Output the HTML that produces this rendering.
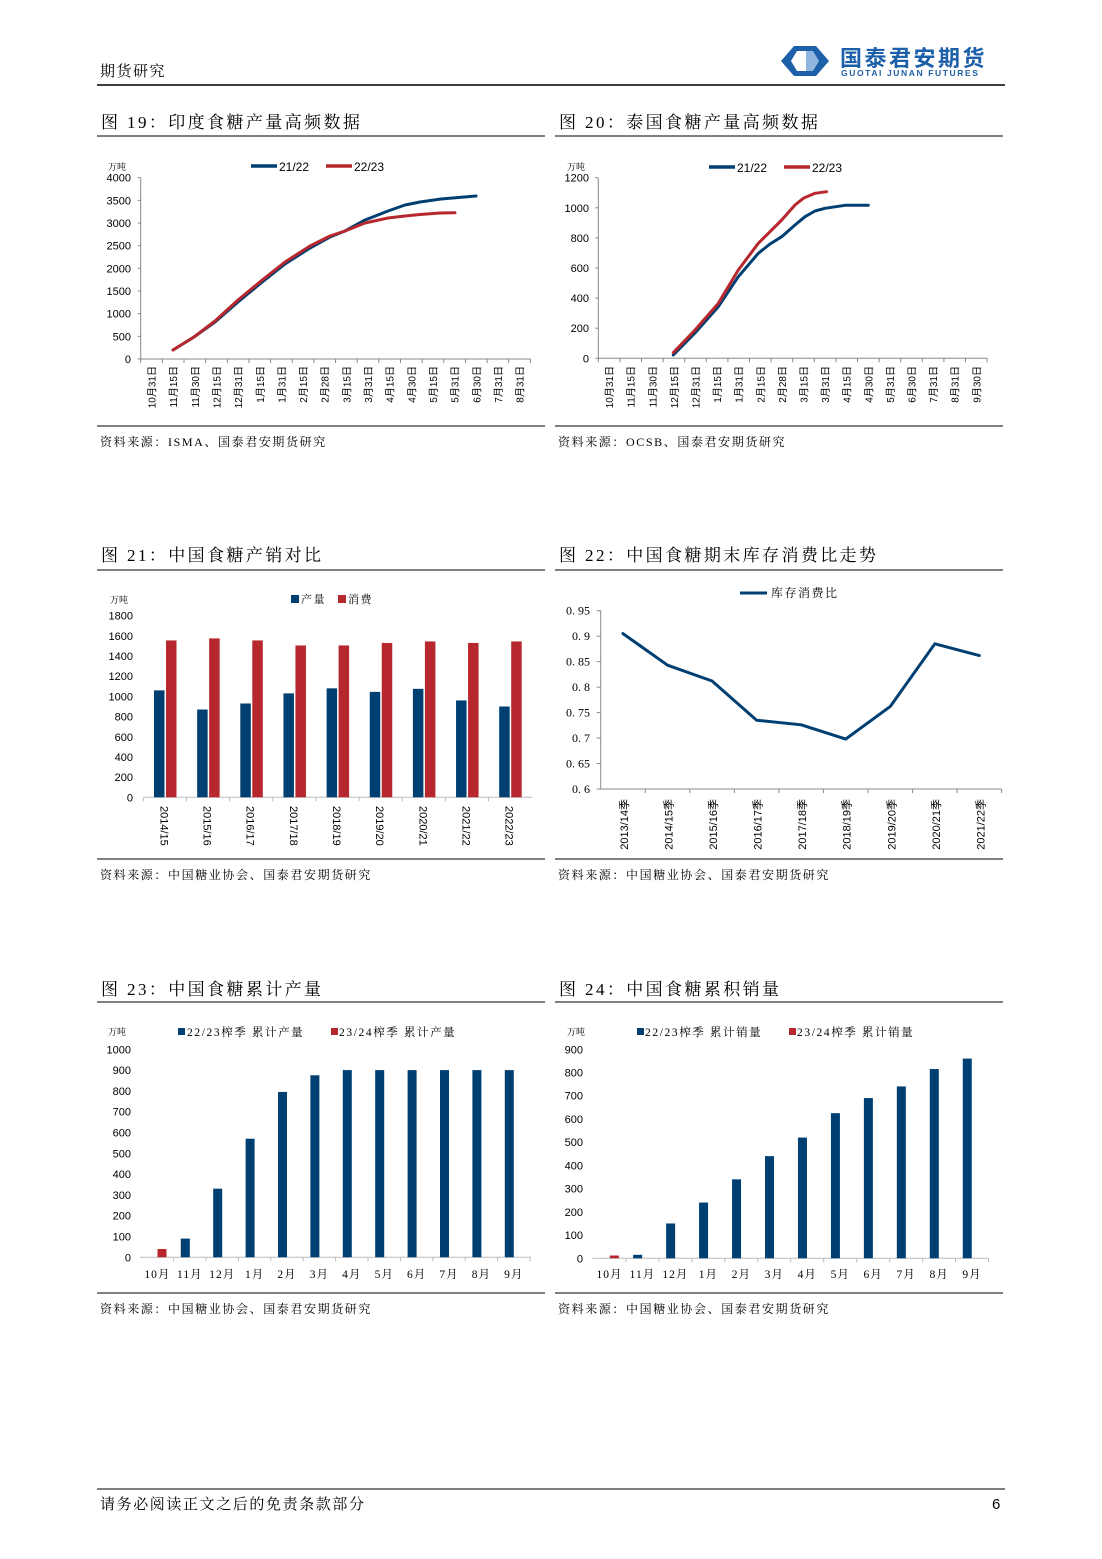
<!DOCTYPE html>
<html><head><meta charset="utf-8">
<style>
body{margin:0;background:#fff;}
svg{display:block;}
.t{font-family:"Liberation Sans","Noto Sans CJK SC",sans-serif;fill:#000;}
.c{font-family:"Liberation Serif","Noto Serif CJK SC",serif;fill:#000;}
</style></head><body>
<svg id="s" width="1102" height="1559" viewBox="0 0 1102 1559" xmlns="http://www.w3.org/2000/svg">
<rect width="1102" height="1559" fill="#fff"/>
<text x="100" y="76" class="c" font-size="15" letter-spacing="1.5">期货研究</text>
<g>
<path d="M781 61 L794 46 L816 46 L829 61 L816 76 L794 76 Z" fill="#1d5fa8"/>
<path d="M797 51 L806 51 L806 71 L797 71 L791 61 Z" fill="#fff"/>
<path d="M806 51 L813 51 L819 61 L813 71 L806 71 Z" fill="#8fb6de"/>
</g>
<text x="840" y="66" font-family="Noto Sans CJK SC,sans-serif" font-weight="bold" font-size="22" fill="#1d5fa8" letter-spacing="2.5">国泰君安期货</text>
<text x="841" y="76" font-family="Liberation Sans,sans-serif" font-weight="bold" font-size="8.5" fill="#1d5fa8" letter-spacing="1.6">GUOTAI JUNAN FUTURES</text>
<line x1="97" y1="85" x2="1005" y2="85" stroke="#000" stroke-width="1.5"/>
<line x1="97" y1="1489" x2="1005" y2="1489" stroke="#000" stroke-width="1"/>
<text x="100" y="1509" class="c" font-size="15" letter-spacing="1.6">请务必阅读正文之后的免责条款部分</text>
<text x="992" y="1509" class="t" font-size="15">6</text>
<g id="g"></g>
</svg>
<script>
var B='#003f72',R='#b7282e',out='';
function T(x,y,s,o){o=o||{};out+='<text x="'+x+'" y="'+y+'" class="'+(o.c||'t')+'" font-size="'+(o.fs||11)+'"'+(o.ls?' letter-spacing="'+o.ls+'"':'')+(o.a?' text-anchor="'+o.a+'"':'')+(o.r?' transform="rotate('+o.r+' '+x+' '+y+')"':'')+(o.f?' fill="'+o.f+'"':'')+'>'+s+'</text>';}
function L(x1,y1,x2,y2,c,w){out+='<line x1="'+x1+'" y1="'+y1+'" x2="'+x2+'" y2="'+y2+'" stroke="'+(c||'#888')+'" stroke-width="'+(w||1)+'"/>';}
function P(pts,c){out+='<polyline points="'+pts.map(function(p){return p.join(',')}).join(' ')+'" fill="none" stroke="'+c+'" stroke-width="3" stroke-linejoin="round" stroke-linecap="round"/>';}
function Rc(x,y,w,h,c){out+='<rect x="'+x+'" y="'+y+'" width="'+w+'" height="'+h+'" fill="'+c+'"/>';}
function frame(x0,x1,ty,title,ly,fy,src){T(x0+4,ty,title,{c:'c',fs:17,ls:2.4});L(x0,ly,x1,ly,'#000',1);L(x0,fy,x1,fy,'#000',1);T(x0+3,fy+20,src,{c:'c',fs:12,ls:1.6});}
frame(97,545,128,'图 19：印度食糖产量高频数据',136,426,'资料来源：ISMA、国泰君安期货研究');
frame(555,1003,128,'图 20：泰国食糖产量高频数据',136,426,'资料来源：OCSB、国泰君安期货研究');
frame(97,545,561,'图 21：中国食糖产销对比',570,859,'资料来源：中国糖业协会、国泰君安期货研究');
frame(555,1003,561,'图 22：中国食糖期末库存消费比走势',570,859,'资料来源：中国糖业协会、国泰君安期货研究');
frame(97,545,995,'图 23：中国食糖累计产量',1002,1293,'资料来源：中国糖业协会、国泰君安期货研究');
frame(555,1003,995,'图 24：中国食糖累积销量',1002,1293,'资料来源：中国糖业协会、国泰君安期货研究');
// chart 19
(function(){var ax=140.7,y0=359,top=177.7;L(ax,top,ax,y0);var n=18,w=21.65;L(ax,y0,ax+n*w,y0);
for(var v=0;v<=4000;v+=500){var y=y0-v*(y0-top)/4000;L(ax-3,y,ax,y);T(131,y+4,v,{a:'end'});}
var lb=['10月31日','11月15日','11月30日','12月15日','12月31日','1月15日','1月31日','2月15日','2月28日','3月15日','3月31日','4月15日','4月30日','5月15日','5月31日','6月30日','7月31日','8月31日'];
for(var i=0;i<=n;i++)L(ax+i*w,y0,ax+i*w,y0+4);
for(i=0;i<n;i++){var x=ax+w*(i+0.5)+4;T(x,366,lb[i],{a:'end',r:-90,fs:10});}
T(108,170,'万吨',{c:'c',fs:9});
L(251,166,277,166,B,3.5);T(279,171,'21/22',{fs:12});L(326,166,352,166,R,3.5);T(354,171,'22/23',{fs:12});
P([[173,350],[194,337],[215,322],[238,302],[261,283],[285,264],[310,248],[330,237],[345,231],[365,220],[388,211],[405,205],[420,202],[441,199],[476,196]],B);
P([[173,350],[194,337],[215,321],[238,300],[261,281],[285,262],[310,246],[330,236],[345,231],[365,223],[388,218],[405,216],[420,214.5],[440,213],[455,212.7]],R);
})();
// chart 20
(function(){var ax=598.3,y0=358.3,top=177.7;L(ax,top,ax,y0);var n=18,w=21.6;L(ax,y0,ax+n*w,y0);
for(var v=0;v<=1200;v+=200){var y=y0-v*(y0-top)/1200;L(ax-3,y,ax,y);T(589,y+4,v,{a:'end'});}
var lb=['10月31日','11月15日','11月30日','12月15日','12月31日','1月15日','1月31日','2月15日','2月28日','3月15日','3月31日','4月15日','4月30日','5月31日','6月30日','7月31日','8月31日','9月30日'];
for(var i=0;i<=n;i++)L(ax+i*w,y0,ax+i*w,y0+4);
for(i=0;i<n;i++){var x=ax+w*(i+0.5)+4;T(x,366,lb[i],{a:'end',r:-90,fs:10});}
T(567,170,'万吨',{c:'c',fs:9});
L(709,167,735,167,B,3.5);T(737,172,'21/22',{fs:12});L(784,167,810,167,R,3.5);T(812,172,'22/23',{fs:12});
P([[673.3,355],[695,333],[718.3,306.7],[738.3,276.7],[758.3,253.3],[770,244],[781.7,236.7],[795,225],[805,216.7],[815,211],[825,208.3],[845,205.3],[868.3,205.3]],B);
P([[673.3,352.7],[695,330],[718.3,303.3],[738.3,270],[758.3,243.3],[781.7,220],[795,205],[803.3,198.3],[815,193.3],[826.7,191.7]],R);
})();
// chart 21
(function(){var ax=143.3,y0=797.3,top=615.7,w=43.15;L(ax,y0,ax+9*w,y0,'#bbb');
for(var v=0;v<=1800;v+=200){var y=y0-v*(y0-top)/1800;T(133,y+4,v,{a:'end'});}
var bl=[1060,870,930,1030,1080,1045,1075,960,900],rd=[1555,1575,1555,1505,1505,1530,1545,1530,1545];
var lb=['2014/15','2015/16','2016/17','2017/18','2018/19','2019/20','2020/21','2021/22','2022/23'];
for(var i=0;i<9;i++){var x=ax+i*w;var hb=bl[i]*(y0-top)/1800,hr=rd[i]*(y0-top)/1800;
Rc(x+10.7,y0-hb,10.5,hb,B);Rc(x+22.7,y0-hr,10.5,hr,R);L(x,y0,x,y0+4,'#bbb');
T(x+w/2-4.5,806,lb[i],{r:90,fs:11});}
T(110,603,'万吨',{c:'c',fs:9});
Rc(291,595,8,8,B);T(301,603,'产量',{c:'c',fs:11,ls:1.5});Rc(338,595,8,8,R);T(348,603,'消费',{c:'c',fs:11,ls:1.5});
})();
// chart 22
(function(){var ax=600.7,y0=789,top=610.7,w=44.55;L(ax,top,ax,y0);L(ax,y0,ax+9*w,y0);
var tv=['0. 6','0. 65','0. 7','0. 75','0. 8','0. 85','0. 9','0. 95'];
for(var k=0;k<8;k++){var y=y0-k*(y0-top)/7;L(ax-4,y,ax,y);T(590,y+4,tv[k],{a:'end',c:'c',fs:12});}
var vals=[0.905,0.843,0.812,0.735,0.726,0.698,0.762,0.885,0.862],pts=[];
var lb=['2013/14季','2014/15季','2015/16季','2016/17季','2017/18季','2018/19季','2019/20季','2020/21季','2021/22季'];
for(var i=0;i<9;i++){var x=ax+w*(i+0.5);pts.push([x,y0-(vals[i]-0.6)/0.35*(y0-top)]);L(ax+(i+1)*w,y0,ax+(i+1)*w,y0+4);
T(x+5,799,lb[i],{a:'end',r:-90,fs:11});}
P(pts,B);
L(740,593,767,593,B,3);T(771,597,'库存消费比',{c:'c',fs:12,ls:1.5});
})();
// chart 23
(function(){var ax=140,y0=1257.3,top=1049.3,w=32.4;L(ax,y0,531,y0,'#bbb');
for(var v=0;v<=1000;v+=100){var y=y0-v*(y0-top)/1000;T(131,y+4,v,{a:'end'});}
var bl=[0,90,330,570,795,875,900,900,900,900,900,900];
var lb=['10月','11月','12月','1月','2月','3月','4月','5月','6月','7月','8月','9月'];
for(var i=0;i<12;i++){var b=152.9+w*i;var h=bl[i]*(y0-top)/1000;if(h)Rc(b-4.5,y0-h,9,h,B);
L(b+4.5+w/2,y0,b+4.5+w/2,y0+4,'#bbb');T(b+4.5,1278,lb[i],{a:'middle',c:'c',fs:11.5,ls:1});}
var hr=40*(y0-top)/1000;Rc(157.5,y0-hr,9,hr,R);
T(108,1035,'万吨',{c:'c',fs:9});
Rc(178,1028,7,7,B);T(187,1036,'22/23榨季 累计产量',{c:'c',fs:11.5,ls:1.6});Rc(331,1028,7,7,R);T(339,1036,'23/24榨季 累计产量',{c:'c',fs:11.5,ls:1.6});
})();
// chart 24
(function(){var ax=592.3,y0=1258.3,top=1049.3,w=32.96;L(ax,y0,988.3,y0,'#bbb');
for(var v=0;v<=900;v+=100){var y=y0-v*(y0-top)/900;T(583,y+4,v,{a:'end'});}
var bl=[0,15,150,240,340,440,520,625,690,740,815,860];
var lb=['10月','11月','12月','1月','2月','3月','4月','5月','6月','7月','8月','9月'];
for(var i=0;i<12;i++){var b=604.7+w*i;var h=bl[i]*(y0-top)/900;if(h)Rc(b-4.5,y0-h,9,h,B);
L(b+4.8+w/2,y0,b+4.8+w/2,y0+4,'#bbb');T(b+4.8,1278,lb[i],{a:'middle',c:'c',fs:11.5,ls:1});}
var hr=12*(y0-top)/900;Rc(609.8,y0-hr,9,hr,R);
T(567,1035,'万吨',{c:'c',fs:9});
Rc(637,1028,7,7,B);T(645,1036,'22/23榨季 累计销量',{c:'c',fs:11.5,ls:1.6});Rc(789,1028,7,7,R);T(797,1036,'23/24榨季 累计销量',{c:'c',fs:11.5,ls:1.6});
})();
document.getElementById('g').innerHTML=out;
</script>
</body></html>
